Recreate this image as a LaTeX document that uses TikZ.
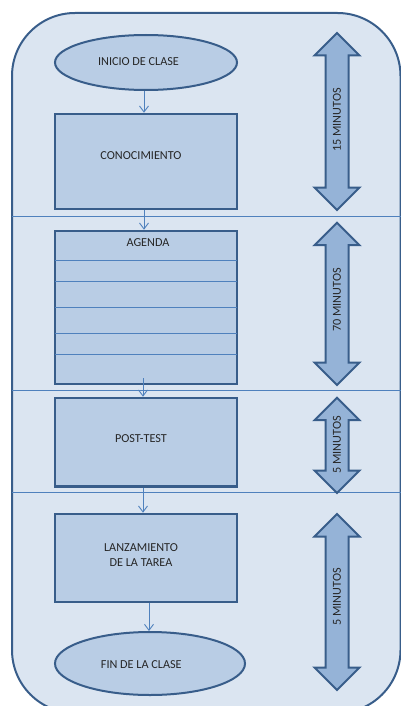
\documentclass[tikz,border=0pt]{standalone}
\usepackage{fontspec}
\setmainfont{Carlito}
\usetikzlibrary{shapes.geometric,arrows.meta}

\definecolor{panelfill}{HTML}{DBE5F1}
\definecolor{boxfill}{HTML}{B9CDE5}
\definecolor{edgeblue}{HTML}{385D8A}
\definecolor{lineblue}{HTML}{4F81BD}
\definecolor{arrowfill}{HTML}{95B3D7}
\definecolor{textgray}{HTML}{262626}

% duration arrow: name, x, tip top, tip bottom, label y, label
\newcommand\durarrow[6]{%
  \draw[bigarrow] (#2,#3) -- ++(22.5,22.5) -- ++(-11,0) -- (#2+11.5,#4-22.5)
    -- ++(11,0) -- (#2,#4) -- ++(-22.5,-22.5) -- ++(11,0) -- (#2-11.5,#3+22.5)
    -- ++(-11,0) -- cycle;
  \node[dur] (#1) at (#2,#5) {#6};}

\begin{document}
\begin{tikzpicture}[x=1pt,y=-1pt,
  panel/.style={draw=edgeblue,fill=panelfill,line width=2pt,rounded corners=63pt},
  stepbox/.style={rectangle,draw=edgeblue,fill=boxfill,line width=2.6pt,inner sep=0pt},
  terminal/.style={ellipse,draw=edgeblue,fill=boxfill,line width=2pt,inner sep=0pt},
  lbl/.style={font=\fontsize{12.2}{15}\selectfont,text=textgray,align=center,inner sep=0pt},
  dur/.style={lbl,rotate=90},
  conn/.style={draw=lineblue,line width=0.9pt,-{Straight Barb[length=6pt,width=9pt]}},
  sepline/.style={draw=lineblue,line width=0.9pt},
  rowline/.style={draw=lineblue,line width=0.9pt},
  bigarrow/.style={draw=edgeblue,fill=arrowfill,line width=2pt,line join=miter}]

\useasboundingbox (0,0) rectangle (401,706);

% background panel
\draw[panel] (12,13) rectangle (400.5,713);

% section separators
\coordinate (s1l) at (12,216);   \coordinate (s1r) at (401,216);
\coordinate (s2l) at (12,390.7); \coordinate (s2r) at (401,390.7);
\coordinate (s3l) at (12,492.7); \coordinate (s3r) at (401,492.7);
\draw[sepline] (s1l) -- (s1r);
\draw[sepline] (s2l) -- (s2r);
\draw[sepline] (s3l) -- (s3r);

% flow steps
\node[terminal, minimum width=182pt, minimum height=55pt] (ini) at (146,62.5) {};
\node[stepbox, minimum width=182pt, minimum height=95pt] (con) at (146,161.5) {};
\node[stepbox, minimum width=182pt, minimum height=153pt] (ag) at (146,307.5) {};
\node[stepbox, minimum width=182pt, minimum height=88.5pt] (post) at (146,442.25) {};
\node[stepbox, minimum width=182pt, minimum height=88pt] (lanz) at (146,558) {};
\node[terminal, minimum width=190pt, minimum height=63pt] (fin) at (150,663.5) {};

% agenda rows
\foreach \yy in {260.7,281.7,307.7,333.3,354.7}
  \draw[rowline] ([xshift=1.3pt]ag.west |- 0,\yy) -- ([xshift=-1.3pt]ag.east |- 0,\yy);

% step labels
\node[lbl] (iniT) at (138.5,61.5) {INICIO DE CLASE};
\node[lbl] (conT) at (141,156) {CONOCIMIENTO};
\node[lbl] (agT) at (148,243) {AGENDA};
\node[lbl] (postT) at (141,439) {POST-TEST};
\node[lbl] (lanzT) at (141,555.5) {LANZAMIENTO\\DE LA TAREA};
\node[lbl] (finT) at (141.3,665) {FIN DE LA CLASE};

% connectors
\draw[conn] ([xshift=-2pt]ini.south) -- ([xshift=-2pt]con.north);
\draw[conn] ([xshift=-2pt]con.south) -- ([xshift=-2pt]ag.north);
\draw[conn] ([xshift=-3pt,yshift=7pt]ag.south) -- ([xshift=-3pt]post.north);
\draw[conn] ([xshift=-3pt]post.south) -- ([xshift=-3pt]lanz.north);
\draw[conn] ([xshift=-1pt]lanz.south -| fin.north) -- ([xshift=-1pt]fin.north);

% durations
\durarrow{d1}{337}{33}{210}{120}{15 MINUTOS}
\durarrow{d2}{337}{222.7}{385}{300}{70 MINUTOS}
\durarrow{d3}{337}{397.7}{493}{445}{5 MINUTOS}
\durarrow{d4}{337}{514}{690}{597}{5 MINUTOS}

\end{tikzpicture}
\end{document}
